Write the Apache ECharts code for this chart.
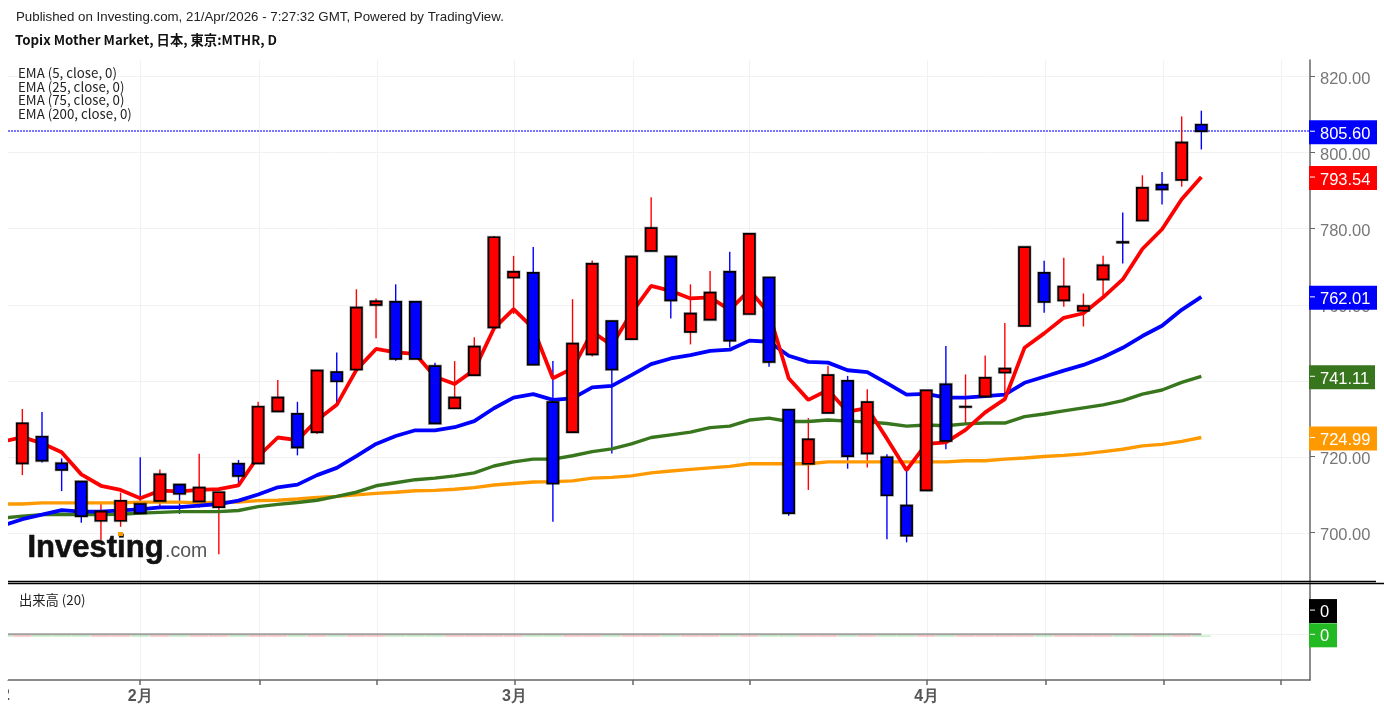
<!DOCTYPE html>
<html>
<head>
<meta charset="utf-8">
<title>Topix Mother Market</title>
<style>
html, body { margin: 0; padding: 0; background: #fff; }
#chart { width: 1384px; height: 713px; }
</style>
<script src="https://cdn.jsdelivr.net/npm/echarts@6/dist/echarts.min.js"></script>
</head>
<body>
<div id="chart"></div>
<script>
// daily candles, index 0 = first visible candle
var opens = [
    718.2, 725.2, 718.2, 713.4, 703.1, 703.1, 707.5, 708.3, 712.6, 708.2,
    706.7, 718.1, 718.2, 731.9, 731.2, 726.4, 742.2, 742.9, 759.9, 760.7,
    760.7, 743.8, 732.7, 741.4, 754.0, 767.1, 768.3, 734.3, 726.4, 746.9,
    755.6, 750.9, 774.1, 772.6, 752.8, 756.0, 768.6, 757.5, 767.1, 732.3,
    718.1, 731.5, 739.9, 720.8, 719.8, 707.1, 711.1, 739.0, 733.05, 735.8,
    742.1, 754.4, 768.3, 761.1, 758.4, 766.6, 776.45, 782.1, 791.5, 792.8,
    807.3
];
var closes = [
    728.7, 718.9, 716.5, 704.3, 705.5, 708.3, 705.1, 715.3, 710.2, 711.8,
    710.6, 714.9, 733.1, 735.5, 722.4, 742.6, 739.8, 759.2, 760.8, 745.7,
    745.7, 728.7, 735.5, 748.9, 777.7, 768.6, 744.2, 712.9, 749.7, 770.7,
    742.9, 772.6, 780.1, 761.1, 757.6, 763.1, 750.5, 778.6, 744.9, 705.1,
    724.5, 741.4, 720.1, 734.3, 709.8, 699.2, 737.4, 724.1, 733.1, 740.7,
    743.1, 775.1, 760.7, 764.7, 759.6, 770.3, 776.3, 790.7, 790.3, 802.6,
    805.6
];
var highs = [
    732.5, 731.7, 719.5, 713.4, 708.0, 710.5, 719.8, 716.6, 712.7, 720.7,
    710.6, 719.1, 734.4, 740.1, 734.4, 742.6, 747.4, 764.0, 761.6, 765.3,
    760.7, 744.7, 745.1, 751.4, 778.0, 772.8, 775.1, 745.1, 761.4, 771.6,
    755.7, 772.6, 788.2, 772.6, 765.3, 768.8, 773.9, 778.6, 767.1, 732.3,
    730.1, 743.9, 741.2, 737.7, 720.6, 716.4, 737.4, 749.1, 741.6, 746.6,
    755.1, 775.1, 771.5, 772.3, 762.9, 772.8, 784.2, 794.0, 794.9, 809.5,
    811.0
];
var lows = [
    715.1, 718.4, 710.9, 702.6, 698.0, 701.5, 705.1, 706.8, 704.9, 706.5,
    694.3, 712.7, 718.2, 731.9, 720.3, 725.9, 734.0, 742.9, 751.1, 745.2,
    745.7, 728.7, 732.7, 741.4, 754.0, 757.5, 744.2, 702.8, 726.4, 746.3,
    720.8, 750.9, 774.1, 756.3, 749.5, 756.0, 748.7, 757.5, 743.6, 704.4,
    711.2, 731.5, 716.8, 717.1, 698.2, 697.4, 711.1, 721.9, 728.7, 735.8,
    735.3, 754.4, 757.8, 759.4, 754.2, 762.1, 770.8, 782.1, 786.3, 791.0,
    800.8
];

// moving averages start one candle earlier (index -1), it is masked at the left edge
var ema5 = [
    723.9,
    725.1, 723.5, 721.1, 715.3, 712.3, 711.2, 709.0, 711.0, 710.8, 711.2,
    711.4, 712.4, 720.0, 725.0, 724.3, 729.6, 733.6, 742.8, 748.3, 747.4,
    747.0, 741.0, 739.1, 742.8, 753.7, 758.8, 753.7, 740.6, 743.2, 752.8,
    749.3, 757.8, 764.9, 763.6, 761.6, 761.9, 758.6, 763.8, 757.7, 740.6,
    734.9, 737.5, 731.8, 732.7, 724.7, 716.4, 723.3, 723.7, 727.0, 731.6,
    735.1, 748.6, 752.4, 756.5, 757.7, 761.9, 766.6, 774.6, 779.8, 787.7,
    793.54
];
var ema25 = [
    701.8,
    703.5, 704.7, 705.9, 705.5, 705.5, 705.8, 706.1, 706.6, 706.7, 707.1,
    707.5, 708.4, 710.0, 711.9, 712.6, 715.1, 717.0, 720.1, 723.3, 725.4,
    726.9, 726.9, 727.7, 729.3, 732.7, 735.5, 736.4, 734.9, 735.3, 738.2,
    738.6, 741.4, 744.3, 745.8, 746.7, 747.8, 748.1, 750.5, 750.2, 746.5,
    744.9, 744.7, 742.7, 742.2, 739.3, 736.3, 736.5, 735.5, 735.5, 735.9,
    736.3, 739.4, 741.0, 742.6, 744.1, 746.1, 748.6, 751.7, 754.4, 758.6,
    762.01
];
var ema75 = [
    703.8,
    704.3, 704.7, 704.8, 704.7, 704.7, 704.8, 705.1, 705.3, 705.5, 705.5,
    705.5, 705.8, 706.8, 707.4, 707.9, 708.5, 709.5, 710.6, 712.3, 713.1,
    713.9, 714.3, 714.9, 715.7, 717.5, 718.6, 719.3, 719.3, 720.2, 721.3,
    722.0, 723.3, 725.0, 725.7, 726.4, 727.6, 728.0, 729.6, 730.1, 729.2,
    729.2, 729.6, 729.3, 729.1, 728.7, 728.0, 728.3, 728.1, 728.6, 728.8,
    728.8, 730.5, 731.2, 732.0, 732.8, 733.6, 734.7, 736.4, 737.5, 739.5,
    741.11
];
var ema200 = [
    707.5,
    707.5, 707.8, 707.8, 707.8, 707.8, 707.8, 708.0, 708.0, 708.0, 707.8,
    708.0, 708.0, 708.4, 708.5, 708.8, 709.2, 709.5, 709.9, 710.3, 710.6,
    711.0, 711.1, 711.4, 711.8, 712.5, 712.9, 713.3, 713.4, 713.6, 714.3,
    714.5, 714.9, 715.7, 716.2, 716.6, 717.0, 717.4, 718.1, 718.1, 718.1,
    718.1, 718.6, 718.6, 718.6, 718.6, 718.6, 718.6, 718.6, 718.9, 718.9,
    719.3, 719.6, 720.0, 720.3, 720.7, 721.3, 721.9, 722.8, 723.2, 724.0,
    724.99
];
var volumes = [
    0,
    0, 0, 0, 0, 0, 0, 0, 0, 0, 0,
    0, 0, 0, 0, 0, 0, 0, 0, 0, 0,
    0, 0, 0, 0, 0, 0, 0, 0, 0, 0,
    0, 0, 0, 0, 0, 0, 0, 0, 0, 0,
    0, 0, 0, 0, 0, 0, 0, 0, 0, 0,
    0, 0, 0, 0, 0, 0, 0, 0, 0, 0,
    0
];

var priceTicks = [700, 720, 740, 760, 780, 800, 820];
var timeTicks = [6, 12.06, 18.04, 25.04, 31.06, 37, 46.02, 52.06, 58.07, 64.04];
var monthTicks = [6, 25.04, 46.02];
var monthNames = ['2月', '3月', '4月'];
var emaNames = ['EMA (5, close, 0)', 'EMA (25, close, 0)', 'EMA (75, close, 0)', 'EMA (200, close, 0)'];

var RED = '#ff0000', BLUE = '#0000ff', GREEN = '#38761d', ORANGE = '#ff9900';
var GRID_COLOR = '#f2f2f2', AXIS_COLOR = '#666';
var FONT = '"Liberation Sans", Arial, sans-serif';
var CJK = '"Noto Sans CJK JP", "Noto Sans", sans-serif';
var X_MIN = -0.73, X_MAX = 65.53;

var candleData = opens.map(function (o, i) {
    return [i, o, closes[i], lows[i], highs[i]];
});

function withIndex(arr) {
    return arr.map(function (v, i) { return [i - 1, v]; });
}

function crisp(v) { return Math.round(v) + 0.5; }

function renderWick(params, api) {
    var i = api.value(0);
    var up = api.value(2) >= api.value(1);
    var hi = api.coord([i, api.value(4)]);
    var lo = api.coord([i, api.value(3)]);
    return {
        type: 'line',
        shape: { x1: hi[0], y1: hi[1], x2: lo[0], y2: lo[1] },
        style: { stroke: up ? RED : BLUE, lineWidth: 1.4 }
    };
}

function renderBox(params, api) {
    var i = api.value(0);
    var up = api.value(2) >= api.value(1);
    var a = api.coord([i, api.value(1)]);
    var b = api.coord([i, api.value(2)]);
    var w = api.size([1, 0])[0] * 0.56;
    var top = Math.min(a[1], b[1]);
    var h = Math.abs(a[1] - b[1]);
    var shape = { x: a[0] - w / 2, y: top, width: w, height: h };
    return {
        type: 'group',
        children: [
            { type: 'rect', shape: shape, style: { fill: 'none', stroke: 'rgba(0,0,0,0.3)', lineWidth: 3 } },
            { type: 'rect', shape: shape, style: { fill: up ? RED : BLUE, stroke: '#000', lineWidth: 1.7 } }
        ]
    };
}

// volume is all zero, the feed still paints a thin tinted strip under the line
function renderVolume(params, api) {
    var i = api.value(0);
    var c = api.coord([i, api.value(1)]);
    var w = api.size([1, 0])[0];
    var up = i >= 0 && closes[i] >= opens[i];
    return {
        type: 'rect',
        shape: { x: c[0] - w / 2, y: c[1] + 1, width: w - 0.5, height: 1.6 },
        style: { fill: up ? 'rgba(255,0,0,0.22)' : 'rgba(0,190,0,0.22)' }
    };
}

// gridlines for the irregular ticks, splitLine has no custom positions
function renderVLine(params, api) {
    var c = api.coord([api.value(0), 0]);
    var cs = params.coordSys;
    var x = crisp(c[0]);
    return {
        type: 'line',
        shape: { x1: x, y1: cs.y, x2: x, y2: cs.y + cs.height },
        style: { stroke: GRID_COLOR, lineWidth: 1 }
    };
}

function renderHLine(params, api) {
    var c = api.coord([0, api.value(0)]);
    var cs = params.coordSys;
    var y = crisp(c[1]);
    return {
        type: 'line',
        shape: { x1: cs.x, y1: y, x2: cs.x + cs.width, y2: y },
        style: { stroke: GRID_COLOR, lineWidth: 1 }
    };
}

// straddles two pixel rows on purpose, a single row of blue reads almost black
function renderLastPrice(params, api) {
    var c = api.coord([0, api.value(0)]);
    var cs = params.coordSys;
    var y = Math.round(c[1]);
    return {
        type: 'line',
        shape: { x1: cs.x, y1: y, x2: cs.x + cs.width, y2: y },
        style: { stroke: '#2a2aff', lineWidth: 1.4, lineDash: [2, 1], opacity: 0.85 }
    };
}

// coloured value tags sitting on the price axis
function tagRenderer(tags, textDy) {
    return function (params, api) {
        var t = tags[params.dataIndex];
        var c = api.coord([X_MAX, t[0]]);
        return {
            type: 'group',
            children: [
                { type: 'rect', shape: { x: c[0] - 1, y: c[1] - 11, width: t[3], height: 24 }, style: { fill: t[2] } },
                { type: 'line', shape: { x1: c[0], y1: c[1], x2: c[0] + 5, y2: c[1] }, style: { stroke: '#fff', lineWidth: 1 } },
                { type: 'text', x: c[0] + 10, y: c[1] + textDy, style: { text: t[1], fill: '#fff', font: '16.5px ' + FONT, textAlign: 'left', textVerticalAlign: 'middle' } }
            ]
        };
    };
}

function emaSeries(name, data, color, width) {
    return {
        name: name,
        type: 'line',
        xAxisIndex: 0,
        yAxisIndex: 0,
        data: withIndex(data),
        showSymbol: false,
        z: 3,
        lineStyle: { color: color, width: width }
    };
}

function gridSeries(name, xi, yi, data, render) {
    return {
        name: name, type: 'custom', xAxisIndex: xi, yAxisIndex: yi, z: 0, silent: true,
        data: data.map(function (v) { return [v]; }),
        encode: render === renderVLine ? { x: 0 } : { y: 0 },
        renderItem: render
    };
}

function fmt2(v) { return v.toFixed(2); }

var lastClose = closes[closes.length - 1];
var priceTags = [
    [lastClose, fmt2(lastClose), BLUE, 68],
    [ema5[ema5.length - 1], fmt2(ema5[ema5.length - 1]), RED, 68],
    [ema25[ema25.length - 1], fmt2(ema25[ema25.length - 1]), BLUE, 68],
    [ema75[ema75.length - 1], fmt2(ema75[ema75.length - 1]), GREEN, 66],
    [ema200[ema200.length - 1], fmt2(ema200[ema200.length - 1]), ORANGE, 68]
];
var volumeTags = [
    [0.5, '0', '#000', 28],
    [0, '0', '#23b923', 28]
];

var myChart = echarts.init(document.getElementById('chart'));

var headerItems = [
    { x: 16, y: 17.5, text: 'Published on Investing.com, 21/Apr/2026 - 7:27:32 GMT, Powered by TradingView.', font: '13.3px ' + FONT, fill: '#222' },
    { x: 15, y: 40, text: 'Topix Mother Market, 日本, 東京:MTHR, D', font: 'bold 13.3px ' + CJK, fill: '#111' },
    { x: 18, y: 73, text: emaNames[0], font: '13.3px ' + CJK, fill: '#222' },
    { x: 18, y: 86.5, text: emaNames[1], font: '13.3px ' + CJK, fill: '#222' },
    { x: 18, y: 100, text: emaNames[2], font: '13.3px ' + CJK, fill: '#222' },
    { x: 18, y: 113.5, text: emaNames[3], font: '13.3px ' + CJK, fill: '#222' },
    { x: 19, y: 600, text: '出来高 (20)', font: '13.3px ' + CJK, fill: '#222' }
];
var graphics = headerItems.map(function (t) {
    return {
        type: 'text', x: t.x, y: t.y, z: 20,
        style: { text: t.text, font: t.font, fill: t.fill, textVerticalAlign: 'middle' }
    };
});
graphics.push(
    // pane separator
    { type: 'line', z: 20, shape: { x1: 8, y1: 581.5, x2: 1376, y2: 581.5 }, style: { stroke: '#000', lineWidth: 1.4 } },
    { type: 'line', z: 20, shape: { x1: 8, y1: 583.5, x2: 1384, y2: 583.5 }, style: { stroke: '#000', lineWidth: 1.4 } },
    // lines and bars must stop at the left edge of the panes
    { type: 'rect', z: 19, shape: { x: 0, y: 60, width: 8, height: 620 }, style: { fill: '#fff' } },
    // logo
    { type: 'text', x: 27.5, y: 564, z: 20, style: { text: 'Investing', font: 'bold 31px ' + FONT, fill: '#111', stroke: '#111', lineWidth: 0.6, textVerticalAlign: 'bottom' } },
    { type: 'text', x: 165, y: 562, z: 20, style: { text: '.com', font: '19.5px ' + FONT, fill: '#555', textVerticalAlign: 'bottom' } },
    { type: 'rect', z: 21, shape: { x: 118, y: 532, width: 5, height: 4 }, style: { fill: ORANGE } },
    // month label cut by the left edge
    { type: 'text', x: 1, y: 696, z: 20, style: { text: '2', font: 'bold 16px ' + FONT, fill: '#555', textVerticalAlign: 'middle' } },
    { type: 'rect', z: 21, shape: { x: 0, y: 685, width: 8, height: 20 }, style: { fill: '#fff' } }
);

var option = {
    animation: false,
    backgroundColor: '#fff',
    textStyle: { fontFamily: FONT },
    graphic: graphics,
    grid: [
        { left: 8, right: 74, top: 60, height: 521 },
        { left: 8, right: 74, top: 583, height: 97 }
    ],
    xAxis: [
        {
            type: 'value', gridIndex: 0, min: X_MIN, max: X_MAX,
            axisLine: { show: false }, axisTick: { show: false }, axisLabel: { show: false },
            splitLine: { show: false }
        },
        {
            type: 'value', gridIndex: 1, min: X_MIN, max: X_MAX,
            axisLine: { show: true, onZero: false, lineStyle: { color: AXIS_COLOR, width: 1.5 } },
            axisTick: { show: true, customValues: timeTicks, length: 5, lineStyle: { color: AXIS_COLOR, width: 1.5 } },
            axisLabel: {
                show: true, customValues: monthTicks, margin: 9,
                color: '#555', fontSize: 16, fontWeight: 'bold', fontFamily: FONT,
                formatter: function (v) { return monthNames[monthTicks.indexOf(v)]; }
            },
            splitLine: { show: false }
        }
    ],
    yAxis: [
        {
            type: 'value', gridIndex: 0, position: 'right', min: 687.24, max: 824.34,
            axisLine: { show: true, onZero: false, lineStyle: { color: AXIS_COLOR, width: 1.5 } },
            axisTick: { show: true, customValues: priceTicks, length: 5, lineStyle: { color: AXIS_COLOR } },
            axisLabel: {
                show: true, customValues: priceTicks, margin: 10,
                formatter: function (v) { return '{p|' + fmt2(v) + '}'; },
                rich: { p: { color: '#777', fontSize: 16.5, fontFamily: FONT, padding: [5, 0, 0, 0] } }
            },
            splitLine: { show: false }
        },
        {
            type: 'value', gridIndex: 1, position: 'right', min: -0.942, max: 1.058,
            axisLine: { show: true, onZero: false, lineStyle: { color: AXIS_COLOR, width: 1.5 } },
            axisTick: { show: false }, axisLabel: { show: false },
            splitLine: { show: false }
        }
    ],
    series: [
        gridSeries('price grid x', 0, 0, timeTicks, renderVLine),
        gridSeries('price grid y', 0, 0, priceTicks, renderHLine),
        gridSeries('volume grid x', 1, 1, timeTicks, renderVLine),
        gridSeries('volume grid y', 1, 1, [0], renderHLine),
        gridSeries('last price', 0, 0, [lastClose], renderLastPrice),
        {
            name: 'wicks', type: 'custom', xAxisIndex: 0, yAxisIndex: 0, z: 2,
            data: candleData, encode: { x: 0, y: [1, 2, 3, 4] }, renderItem: renderWick
        },
        emaSeries('EMA 200', ema200, ORANGE, 3.4),
        emaSeries('EMA 75', ema75, GREEN, 3.4),
        emaSeries('EMA 25', ema25, BLUE, 3.8),
        emaSeries('EMA 5', ema5, RED, 3.8),
        {
            name: 'candles', type: 'custom', xAxisIndex: 0, yAxisIndex: 0, z: 4,
            data: candleData, encode: { x: 0, y: [1, 2] }, renderItem: renderBox
        },
        {
            name: '出来高', type: 'custom', xAxisIndex: 1, yAxisIndex: 1, z: 2,
            data: withIndex(volumes), encode: { x: 0, y: 1 }, renderItem: renderVolume
        },
        {
            name: '出来高 MA', type: 'line', xAxisIndex: 1, yAxisIndex: 1, z: 3,
            data: withIndex(volumes), showSymbol: false,
            lineStyle: { color: '#a0a0a0', width: 2 }
        },
        {
            name: 'price tags', type: 'custom', xAxisIndex: 0, yAxisIndex: 0, z: 10,
            data: priceTags.map(function (t) { return [t[0]]; }), encode: { y: 0 },
            renderItem: tagRenderer(priceTags, 3)
        },
        {
            name: 'volume tags', type: 'custom', xAxisIndex: 1, yAxisIndex: 1, z: 10,
            data: volumeTags.map(function (t) { return [t[0]]; }), encode: { y: 0 },
            renderItem: tagRenderer(volumeTags, 2)
        }
    ]
};
myChart.setOption(option);
window.addEventListener('resize', function () {
    myChart.resize();
});
</script>
</body>
</html>
